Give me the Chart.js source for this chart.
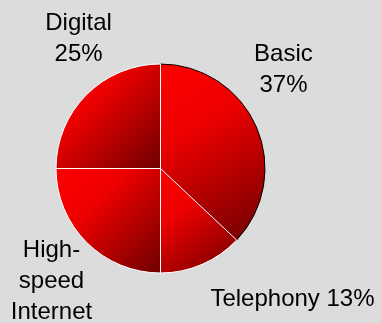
<!DOCTYPE html>
<html>
<head>
<meta charset="utf-8">
<script src="https://cdn.jsdelivr.net/npm/chart.js@4/dist/chart.umd.min.js"></script>
<style>
  html, body { margin: 0; padding: 0; background: #dcdcdc; }
  #wrap { width: 381px; height: 323px; position: relative; }
</style>
</head>
<body>
<div id="wrap"><canvas id="pie"></canvas></div>
<script>
const categories = ['Basic', 'Telephony', 'High-speed Internet', 'Digital'];
const shares = [37, 13, 25, 25];
// how each category name wraps next to the pie
const nameLines = [['Basic'], ['Telephony'], ['High-', 'speed', 'Internet'], ['Digital']];
// label block centre, in pie radii from the pie centre
const labelSpots = [[1.171, -0.938], [1.257, 1.243], [-1.038, 1.071], [-0.78, -1.233]];
const edgeColors = ['#000000', '#ffffff', '#ffffff', '#ffffff'];

const total = shares.reduce((a, b) => a + b, 0);

function pieGeometry(chart) {
  const a = chart.chartArea;
  return {
    cx: (a.left + a.right) / 2,
    cy: (a.top + a.bottom) / 2,
    r: Math.min(a.right - a.left, a.bottom - a.top) / 2
  };
}

// bounding box of one slice, starting at 12 o'clock and going clockwise
function sliceBox(i, g) {
  let before = 0;
  for (let k = 0; k < i; k++) before += shares[k];
  const a0 = -Math.PI / 2 + before / total * Math.PI * 2;
  const a1 = a0 + shares[i] / total * Math.PI * 2;
  const xs = [g.cx, g.cx + g.r * Math.cos(a0), g.cx + g.r * Math.cos(a1)];
  const ys = [g.cy, g.cy + g.r * Math.sin(a0), g.cy + g.r * Math.sin(a1)];
  for (let q = -2; q <= 4; q++) {
    const t = q * Math.PI / 2;
    if (t > a0 && t < a1) {
      xs.push(g.cx + g.r * Math.cos(t));
      ys.push(g.cy + g.r * Math.sin(t));
    }
  }
  return { x0: Math.min(...xs), y0: Math.min(...ys), x1: Math.max(...xs), y1: Math.max(...ys) };
}

function sliceFill(ctx) {
  const chart = ctx.chart;
  if (!chart.chartArea) return '#e00000';
  const b = sliceBox(ctx.dataIndex, pieGeometry(chart));
  const grad = chart.ctx.createLinearGradient(b.x0, b.y0, b.x1, b.y1);
  grad.addColorStop(0, '#ff0000');
  grad.addColorStop(0.35, '#ee0000');
  grad.addColorStop(1, '#6e0000');
  return grad;
}

const sliceLabels = {
  id: 'sliceLabels',
  afterDatasetsDraw(chart) {
    const g = pieGeometry(chart);
    const c = chart.ctx;
    c.save();
    c.fillStyle = '#000';
    c.font = '24px "Liberation Sans", Arial, sans-serif';
    c.textAlign = 'center';
    c.textBaseline = 'middle';
    const lh = 31;
    categories.forEach((name, i) => {
      const pct = Math.round(shares[i] / total * 100) + '%';
      let lines = nameLines[i].slice();
      if (lines.length === 1 && i === 1) lines = [lines[0] + ' ' + pct];
      else if (lines.length < 3) lines.push(pct);
      const x = g.cx + labelSpots[i][0] * g.r;
      const y = g.cy + labelSpots[i][1] * g.r - (lines.length - 1) * lh / 2;
      lines.forEach((t, j) => c.fillText(t, x, y + j * lh));
    });
    c.restore();
  }
};

new Chart(document.getElementById('pie'), {
  type: 'pie',
  data: {
    labels: categories,
    datasets: [{
      data: shares,
      backgroundColor: sliceFill,
      borderColor: edgeColors,
      borderWidth: 1
    }]
  },
  options: {
    responsive: true,
    maintainAspectRatio: false,
    animation: false,
    layout: { padding: { left: 55.5, right: 115.5, top: 63.5, bottom: 49.5 } },
    plugins: {
      legend: { display: false },
      tooltip: { enabled: false }
    }
  },
  plugins: [sliceLabels]
});
</script>
</body>
</html>
